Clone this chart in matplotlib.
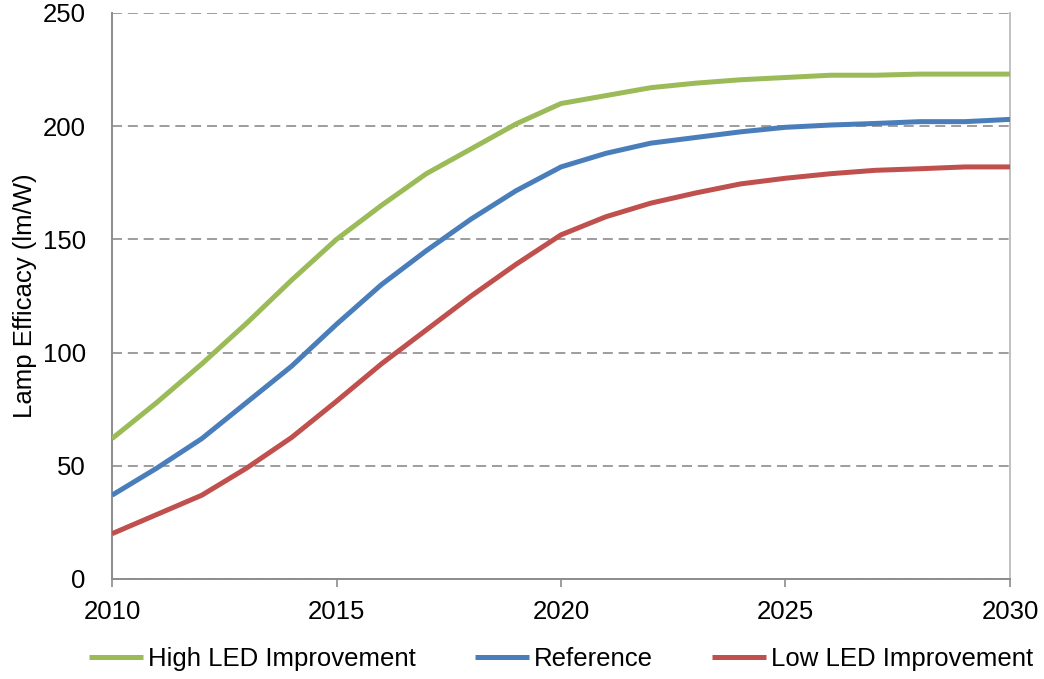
import matplotlib
matplotlib.use('Agg')
import matplotlib.pyplot as plt

plt.rcParams['font.family'] = ['Liberation Sans', 'DejaVu Sans']

years = list(range(2010, 2031))
high_led = [62, 78, 95, 113, 132, 150, 165, 179, 190, 201, 210,
            213.5, 217, 219, 220.5, 221.5, 222.5, 222.5, 223, 223, 223]
reference = [37, 49, 62, 78, 94, 112.5, 130, 145, 159, 171.5, 182,
             188, 192.5, 195, 197.5, 199.5, 200.5, 201.2, 202, 202, 203]
low_led = [20, 28.5, 37, 49, 62.5, 78.5, 95, 110, 125, 139, 152,
           160, 166, 170.5, 174.5, 177, 179, 180.5, 181.2, 182, 182]

series_names = ['High LED Improvement', 'Reference', 'Low LED Improvement']
colors = ['#9BBB59', '#4A7EBB', '#C0504D']

fig = plt.figure(figsize=(10.44, 6.79), dpi=100)
ax = fig.add_axes([0.1073, 0.1473, 0.8601, 0.8336])

for vals, name, c in zip([high_led, reference, low_led], series_names, colors):
    ax.plot(years, vals, color=c, linewidth=3.6, label=name,
            solid_capstyle='butt', solid_joinstyle='round', zorder=3)

ax.set_xlim(2010, 2030)
ax.set_ylim(0, 250)
ax.set_xticks(range(2010, 2031, 5))
ax.set_yticks(range(0, 251, 50))

ax.yaxis.grid(True, color='#8C8C8C', linestyle=(0, (6, 3.5)), linewidth=1.2)
ax.set_axisbelow(True)

for side in ['left', 'bottom']:
    ax.spines[side].set_color('#8C8C8C')
    ax.spines[side].set_linewidth(1.4)
ax.spines['right'].set_color('#C0C0C0')
ax.spines['right'].set_linewidth(1.4)
ax.spines['top'].set_visible(False)

ax.tick_params(axis='y', length=0, pad=19, labelsize=18.5)
ax.tick_params(axis='x', length=6, width=1.2, color='#8C8C8C', pad=9,
               labelsize=18.5, direction='out')

ax.set_ylabel('Lamp Efficacy (lm/W)', fontsize=18.5, labelpad=4)

ax.legend(loc='center', bbox_to_anchor=(0.5, -0.141), ncol=3,
          frameon=False, fontsize=18.5, handlelength=2.1, handletextpad=0.2,
          columnspacing=2.3)

fig.savefig('out.png', dpi=100)
